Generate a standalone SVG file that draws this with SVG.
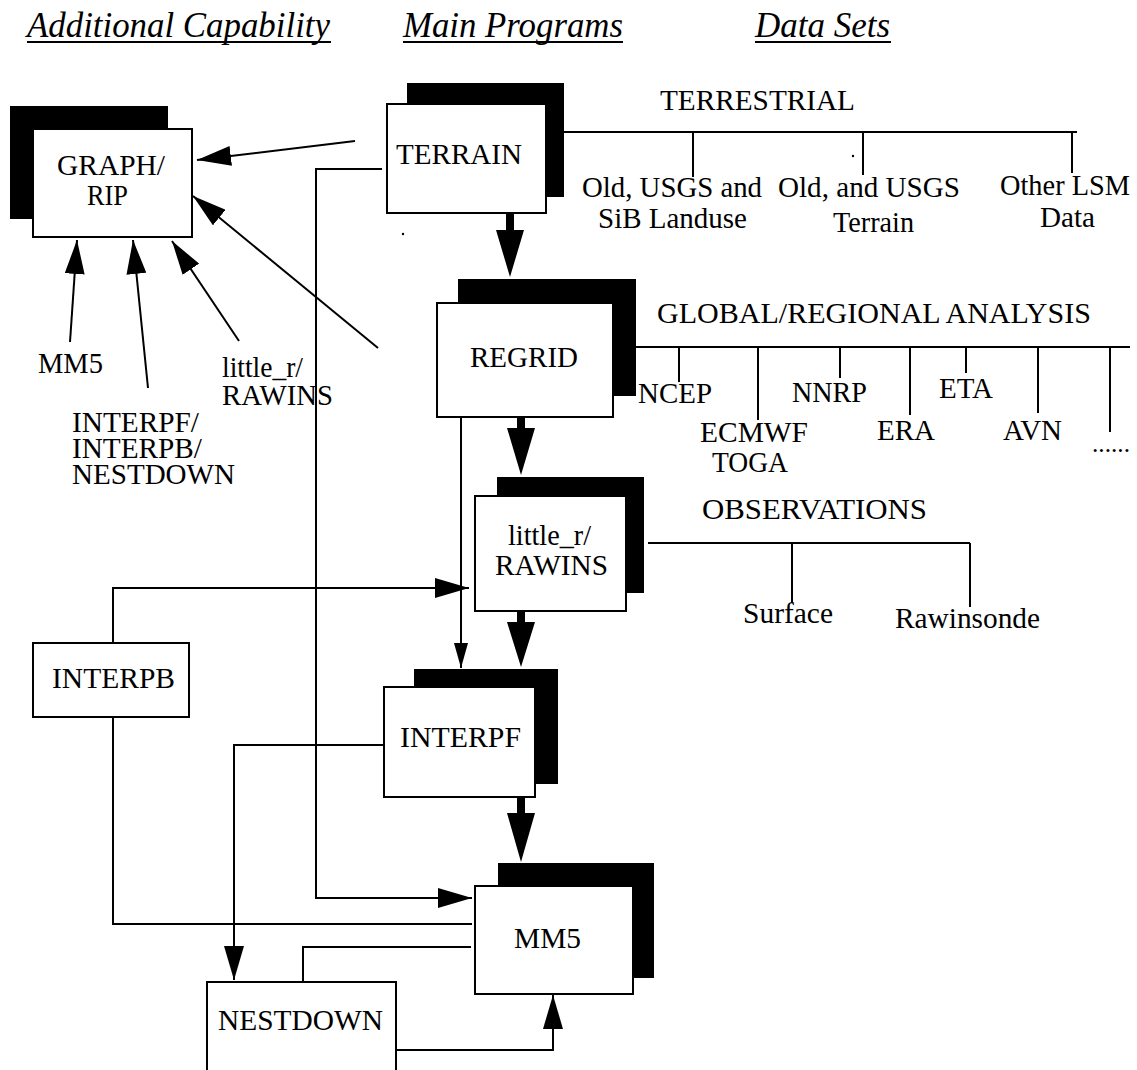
<svg xmlns="http://www.w3.org/2000/svg" width="1137" height="1070" viewBox="0 0 1137 1070">
<style>
  text { font-family: "Liberation Serif", "Times New Roman", Times, serif; font-size: 29px; fill: #000; }
  .hdr { font-style: italic; font-size: 35px; }
  .ul { stroke: #000; stroke-width: 2; }
  .shadow { fill: #000; }
  .box { fill: #fff; stroke: #000; stroke-width: 2; }
  .ln { fill: none; stroke: #000; stroke-width: 2; }
  .big { fill: #000; stroke: none; }
</style>
<defs>
  <marker id="arr" viewBox="0 0 34 20" refX="34" refY="10" markerWidth="34" markerHeight="20" markerUnits="userSpaceOnUse" orient="auto">
    <path d="M0,0 L34,10 L0,20 Z" fill="#000"/>
  </marker>
  <marker id="arrS" viewBox="0 0 25 14" refX="25" refY="7" markerWidth="25" markerHeight="14" markerUnits="userSpaceOnUse" orient="auto">
    <path d="M0,0 L25,7 L0,14 Z" fill="#000"/>
  </marker>
</defs>
<rect width="1137" height="1070" fill="#fff"/>

<g id="headers">
  <text class="hdr" x="27" y="37" textLength="303" lengthAdjust="spacingAndGlyphs">Additional Capability</text>
  <line class="ul" x1="27" y1="42" x2="331" y2="42"/>
  <text class="hdr" x="403" y="37" textLength="220" lengthAdjust="spacingAndGlyphs">Main Programs</text>
  <line class="ul" x1="403" y1="42" x2="623" y2="42"/>
  <text class="hdr" x="755" y="37" textLength="135" lengthAdjust="spacingAndGlyphs">Data Sets</text>
  <line class="ul" x1="755" y1="42" x2="891" y2="42"/>
</g>

<g id="connectors">
  <line class="ln" x1="355" y1="141" x2="197" y2="160" marker-end="url(#arr)"/>
  <line class="ln" x1="70" y1="342" x2="77" y2="240" marker-end="url(#arr)"/>
  <line class="ln" x1="148" y1="388" x2="133" y2="240" marker-end="url(#arr)"/>
  <line class="ln" x1="239" y1="341" x2="172" y2="241" marker-end="url(#arr)"/>
  <line class="ln" x1="378" y1="348" x2="193" y2="196" marker-end="url(#arr)"/>
  <polyline class="ln" points="382,169 316,169 316,898 472,898" marker-end="url(#arr)"/>
  <path class="big" d="M506,213 L514,213 L514,230 L524,230 L510,277 L496,230 L506,230 Z"/>
  <path class="big" d="M517,417 L525,417 L525,428 L535,428 L521,475 L507,428 L517,428 Z"/>
  <path class="big" d="M517,611 L525,611 L525,622 L535,622 L521,667 L507,622 L517,622 Z"/>
  <path class="big" d="M517,797 L525,797 L525,813 L535,813 L521,862 L507,813 L517,813 Z"/>
  <line class="ln" x1="564" y1="132" x2="1077" y2="132"/>
  <line class="ln" x1="693" y1="132" x2="693" y2="177"/>
  <line class="ln" x1="863" y1="132" x2="863" y2="175"/>
  <line class="ln" x1="1072" y1="132" x2="1072" y2="173"/>
  <line class="ln" x1="636" y1="347" x2="1130" y2="347"/>
  <line class="ln" x1="679" y1="347" x2="679" y2="382"/>
  <line class="ln" x1="758" y1="347" x2="758" y2="420"/>
  <line class="ln" x1="840" y1="347" x2="840" y2="378"/>
  <line class="ln" x1="910" y1="347" x2="910" y2="415"/>
  <line class="ln" x1="966" y1="347" x2="966" y2="373"/>
  <line class="ln" x1="1038" y1="347" x2="1038" y2="413"/>
  <line class="ln" x1="1110" y1="347" x2="1110" y2="432"/>
  <line class="ln" x1="461" y1="417" x2="461" y2="668" marker-end="url(#arrS)"/>
  <polyline class="ln" points="113,643 113,588 469,588" marker-end="url(#arr)"/>
  <line class="ln" x1="648" y1="543" x2="970" y2="543"/>
  <line class="ln" x1="792" y1="543" x2="792" y2="602"/>
  <line class="ln" x1="970" y1="543" x2="970" y2="607"/>
  <polyline class="ln" points="384,745 234,745 234,980" marker-end="url(#arr)"/>
  <polyline class="ln" points="113,717 113,924 472,924"/>
  <polyline class="ln" points="471,947 303,947 303,982"/>
  <polyline class="ln" points="396,1050 553,1050 553,995" marker-end="url(#arr)"/>
  <circle cx="403" cy="234" r="1.2" fill="#000"/>
  <circle cx="853" cy="156" r="1.2" fill="#000"/>
</g>

<g id="graph-rip">
  <rect class="shadow" x="10" y="106" width="158" height="113"/>
  <rect class="box" x="33" y="129" width="159" height="108"/>
  <text x="57" y="175" textLength="108" lengthAdjust="spacingAndGlyphs">GRAPH/</text>
  <text x="87" y="205" textLength="41" lengthAdjust="spacingAndGlyphs">RIP</text>
</g>

<g id="terrain">
  <rect class="shadow" x="407" y="83" width="157" height="114"/>
  <rect class="box" x="387" y="104" width="159" height="109"/>
  <text x="396" y="164" textLength="126" lengthAdjust="spacingAndGlyphs">TERRAIN</text>
</g>

<g id="regrid">
  <rect class="shadow" x="458" y="279" width="178" height="117"/>
  <rect class="box" x="437" y="303" width="176" height="114"/>
  <text x="470" y="367" textLength="108" lengthAdjust="spacingAndGlyphs">REGRID</text>
</g>

<g id="little-r">
  <rect class="shadow" x="497" y="477" width="147" height="116"/>
  <rect class="box" x="475" y="496" width="151" height="115"/>
  <text x="508" y="545" textLength="83" lengthAdjust="spacingAndGlyphs">little_r/</text>
  <text x="495" y="575" textLength="113" lengthAdjust="spacingAndGlyphs">RAWINS</text>
</g>

<g id="interpf">
  <rect class="shadow" x="414" y="669" width="144" height="115"/>
  <rect class="box" x="384" y="687" width="151" height="110"/>
  <text x="400" y="747" textLength="121" lengthAdjust="spacingAndGlyphs">INTERPF</text>
</g>

<g id="mm5">
  <rect class="shadow" x="498" y="863" width="156" height="115"/>
  <rect class="box" x="475" y="886" width="158" height="108"/>
  <text x="514" y="948" textLength="67" lengthAdjust="spacingAndGlyphs">MM5</text>
</g>

<g id="interpb">
  <rect class="box" x="33" y="643" width="156" height="74"/>
  <text x="52" y="688" textLength="123" lengthAdjust="spacingAndGlyphs">INTERPB</text>
</g>

<g id="nestdown">
  <rect class="box" x="207" y="982" width="189" height="100"/>
  <text x="218" y="1030" textLength="165" lengthAdjust="spacingAndGlyphs">NESTDOWN</text>
</g>

<g id="labels">
  <text x="38" y="373" textLength="65" lengthAdjust="spacingAndGlyphs">MM5</text>
  <text x="72" y="432" textLength="127" lengthAdjust="spacingAndGlyphs">INTERPF/</text>
  <text x="72" y="458" textLength="130" lengthAdjust="spacingAndGlyphs">INTERPB/</text>
  <text x="72" y="484" textLength="163" lengthAdjust="spacingAndGlyphs">NESTDOWN</text>
  <text x="222" y="377" textLength="81" lengthAdjust="spacingAndGlyphs">little_r/</text>
  <text x="222" y="405" textLength="111" lengthAdjust="spacingAndGlyphs">RAWINS</text>
</g>

<g id="datasets">
  <text x="660" y="110" textLength="195" lengthAdjust="spacingAndGlyphs">TERRESTRIAL</text>
  <text x="582" y="197" textLength="180" lengthAdjust="spacingAndGlyphs">Old, USGS and</text>
  <text x="598" y="228" textLength="149" lengthAdjust="spacingAndGlyphs">SiB Landuse</text>
  <text x="778" y="197" textLength="182" lengthAdjust="spacingAndGlyphs">Old, and USGS</text>
  <text x="833" y="232" textLength="81" lengthAdjust="spacingAndGlyphs">Terrain</text>
  <text x="1000" y="195" textLength="130" lengthAdjust="spacingAndGlyphs">Other LSM</text>
  <text x="1040" y="227" textLength="55" lengthAdjust="spacingAndGlyphs">Data</text>
  <text x="657" y="323" textLength="434" lengthAdjust="spacingAndGlyphs">GLOBAL/REGIONAL ANALYSIS</text>
  <text x="638" y="403" textLength="74" lengthAdjust="spacingAndGlyphs">NCEP</text>
  <text x="700" y="442" textLength="108" lengthAdjust="spacingAndGlyphs">ECMWF</text>
  <text x="712" y="472" textLength="76" lengthAdjust="spacingAndGlyphs">TOGA</text>
  <text x="792" y="402" textLength="75" lengthAdjust="spacingAndGlyphs">NNRP</text>
  <text x="877" y="440" textLength="58" lengthAdjust="spacingAndGlyphs">ERA</text>
  <text x="939" y="398" textLength="54" lengthAdjust="spacingAndGlyphs">ETA</text>
  <text x="1003" y="440" textLength="59" lengthAdjust="spacingAndGlyphs">AVN</text>
  <text x="1092" y="452" style="font-size:25px" textLength="38" lengthAdjust="spacingAndGlyphs">......</text>
  <text x="702" y="519" textLength="225" lengthAdjust="spacingAndGlyphs">OBSERVATIONS</text>
  <text x="743" y="623" textLength="90" lengthAdjust="spacingAndGlyphs">Surface</text>
  <text x="895" y="628" textLength="145" lengthAdjust="spacingAndGlyphs">Rawinsonde</text>
</g>
</svg>
